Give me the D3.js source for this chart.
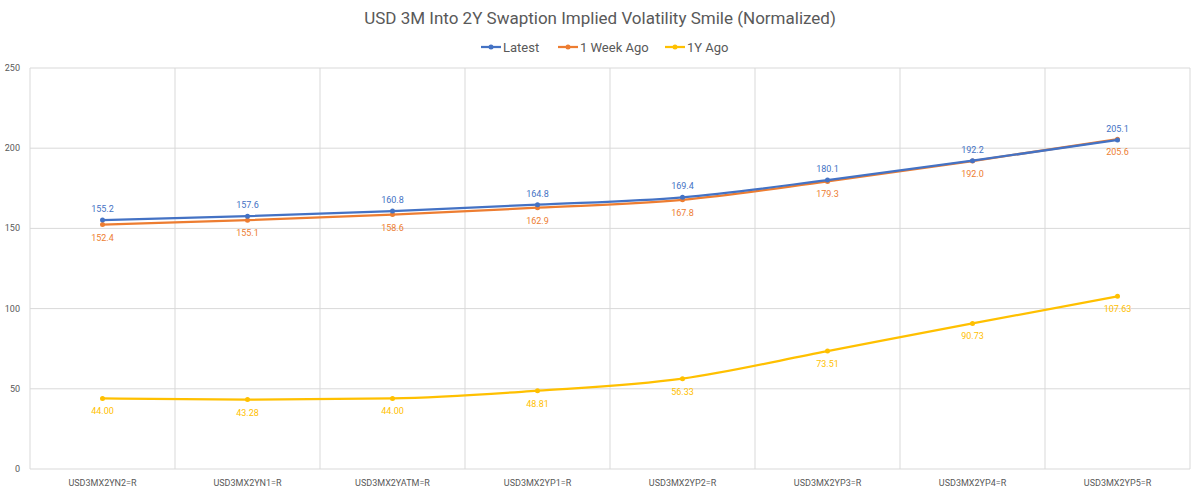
<!DOCTYPE html><html><head><meta charset="utf-8"><script src="https://cdn.jsdelivr.net/npm/d3@7"></script>
<style>body{margin:0;background:#fff;font-family:Roboto,sans-serif}</style></head><body><svg id="c" width="1200" height="493"></svg>
<script>
const categories=["USD3MX2YN2=R","USD3MX2YN1=R","USD3MX2YATM=R","USD3MX2YP1=R","USD3MX2YP2=R","USD3MX2YP3=R","USD3MX2YP4=R","USD3MX2YP5=R"];
const latest=[155.2,157.6,160.8,164.8,169.4,180.1,192.2,205.1];
const weekAgo=[152.4,155.1,158.6,162.9,167.8,179.3,192.0,205.6];
const yearAgo=[44.00,43.28,44.00,48.81,56.33,73.51,90.73,107.63];
const yTicks=[0,50,100,150,200,250];
const series=[
 {name:"Latest",data:latest,color:"#4472C4",fmt:d3.format(".1f"),pos:"above"},
 {name:"1 Week Ago",data:weekAgo,color:"#ED7D31",fmt:d3.format(".1f"),pos:"below"},
 {name:"1Y Ago",data:yearAgo,color:"#FFC000",fmt:d3.format(".2f"),pos:"below"}];
const svg=d3.select("#c");
const x=d3.scaleBand().domain(categories).range([30,1190]);
const y=d3.scaleLinear().domain([0,250]).range([469,68]);
const g=svg.append("g");
g.selectAll(".h").data(yTicks).join("line").attr("x1",30).attr("x2",1190).attr("y1",d=>y(d)).attr("y2",d=>y(d)).attr("stroke","#d9d9d9");
const xb=[...categories.map(c=>x(c)),1190];
g.selectAll(".v").data(xb).join("line").attr("x1",d=>d).attr("x2",d=>d).attr("y1",68).attr("y2",469).attr("stroke","#d9d9d9");
g.selectAll(".yl").data(yTicks).join("text").attr("x",20).attr("y",d=>y(d)+3).attr("text-anchor","end").attr("font-size",9).attr("fill","#595959").text(d=>d);
g.selectAll(".xl").data(categories).join("text").attr("x",d=>x(d)+x.bandwidth()/2).attr("y",486).attr("text-anchor","middle").attr("font-size",9).attr("fill","#595959").text(d=>d);
const cx=i=>x(categories[i])+x.bandwidth()/2;
const line=d3.line().x((d,i)=>cx(i)).y(d=>y(d)).curve(d3.curveMonotoneX);
series.slice().reverse().forEach(s=>{
 g.append("path").attr("d",line(s.data)).attr("fill","none").attr("stroke",s.color).attr("stroke-width",2.25);
 g.selectAll(null).data(s.data).join("circle").attr("cx",(d,i)=>cx(i)).attr("cy",d=>y(d)).attr("r",2.5).attr("fill",s.color);
 g.selectAll(null).data(s.data).join("text").attr("x",(d,i)=>cx(i)).attr("y",d=>y(d)+(s.pos=="above"?-8:16)).attr("text-anchor","middle").attr("font-size",9).attr("fill",s.color).text(d=>s.fmt(d));
});
svg.append("text").attr("x",600).attr("y",24).attr("text-anchor","middle").attr("font-size",17).attr("fill","#595959").text("USD 3M Into 2Y Swaption Implied Volatility Smile (Normalized)");
const lw=[77,107,90];let lx=481;
series.forEach((s,i)=>{const lg=svg.append("g").attr("transform",`translate(${lx},47)`);
 lg.append("line").attr("x1",0).attr("x2",20).attr("stroke",s.color).attr("stroke-width",2.25);
 lg.append("circle").attr("cx",10).attr("r",2.5).attr("fill",s.color);
 lg.append("text").attr("x",22).attr("y",5).attr("font-size",13).attr("fill","#595959").text(s.name);
 lx+=lw[i];});
</script></body></html>
